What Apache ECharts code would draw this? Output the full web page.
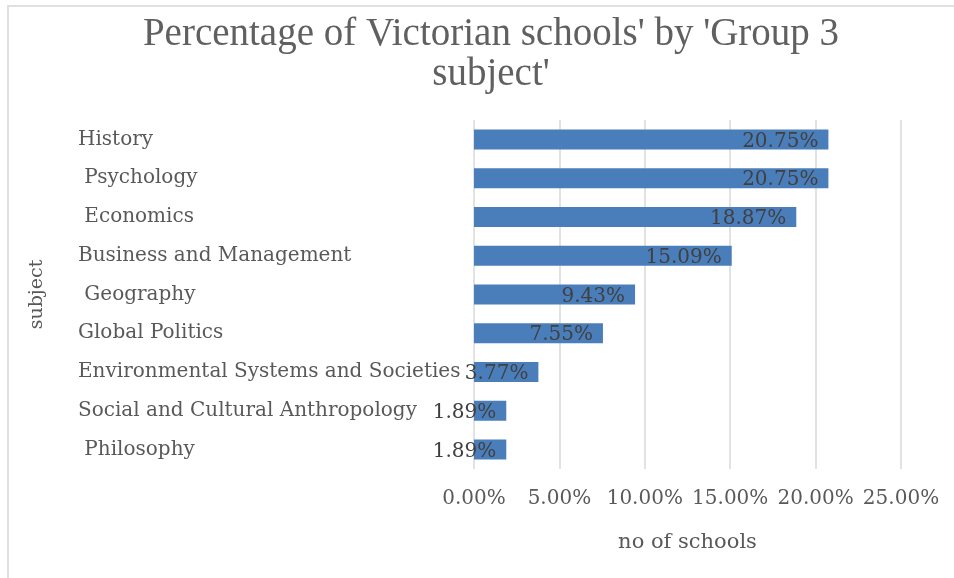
<!DOCTYPE html>
<html>
<head>
<meta charset="utf-8">
<script src="https://cdn.jsdelivr.net/npm/echarts@6/dist/echarts.min.js"></script>
<style>
html,body{margin:0;padding:0;background:#fff;}
#chart{width:954px;height:578px;}
#frame{position:absolute;left:7px;top:5px;width:946px;height:573px;border-top:2px solid #e0e0e0;border-left:2px solid #e0e0e0;pointer-events:none;}
</style>
</head>
<body>
<div id="chart"></div>
<div id="frame"></div>
<script>
const titleText = "Percentage of Victorian schools' by 'Group 3\nsubject'";
const categories = [
  "History",
  " Psychology",
  " Economics",
  "Business and Management",
  " Geography",
  "Global Politics",
  "Environmental Systems and Societies",
  "Social and Cultural Anthropology",
  " Philosophy"
];
const values = [20.75, 20.75, 18.87, 15.09, 9.43, 7.55, 3.77, 1.89, 1.89];
const xTicks = [0, 5, 10, 15, 20, 25];

const chart = echarts.init(document.getElementById('chart'));
const serif = "'DejaVu Serif', serif";
chart.setOption({
  animation: false,
  title: {
    text: titleText,
    left: 486,
    top: 10,
    textAlign: 'center',
    textStyle: {fontFamily: "'Liberation Serif', serif", fontSize: 39, fontWeight: 'normal', color: '#606060', lineHeight: 40}
  },
  grid: {left: 474, right: 53, top: 120, bottom: 109},
  xAxis: {
    type: 'value',
    min: xTicks[0],
    max: xTicks[xTicks.length - 1],
    interval: 5,
    name: 'no of schools',
    nameLocation: 'middle',
    nameGap: 63,
    nameTextStyle: {fontFamily: serif, fontSize: 21, color: '#595959'},
    axisLine: {show: false},
    axisTick: {show: false},
    axisLabel: {fontFamily: serif, fontSize: 20, color: '#595959', margin: 20, formatter: v => v.toFixed(2) + '%'},
    splitLine: {lineStyle: {color: '#d9d9d9', width: 1.5}}
  },
  yAxis: {
    type: 'category',
    inverse: true,
    data: categories,
    name: 'subject',
    nameLocation: 'middle',
    nameGap: 427,
    nameRotate: 90,
    nameTextStyle: {fontFamily: serif, fontSize: 19, color: '#595959'},
    axisLine: {show: false},
    axisTick: {show: false},
    axisLabel: {fontFamily: serif, fontSize: 20, color: '#595959', align: 'left', margin: 396}
  },
  series: [{
    type: 'bar',
    data: values,
    barWidth: 20,
    itemStyle: {color: '#4a7ebb'},
    label: {
      show: true,
      position: 'insideRight',
      distance: 10,
      offset: [0, 2],
      fontFamily: serif,
      fontSize: 20,
      color: '#404040',
      formatter: p => p.value.toFixed(2) + '%'
    }
  }]
});
</script>
</body>
</html>
